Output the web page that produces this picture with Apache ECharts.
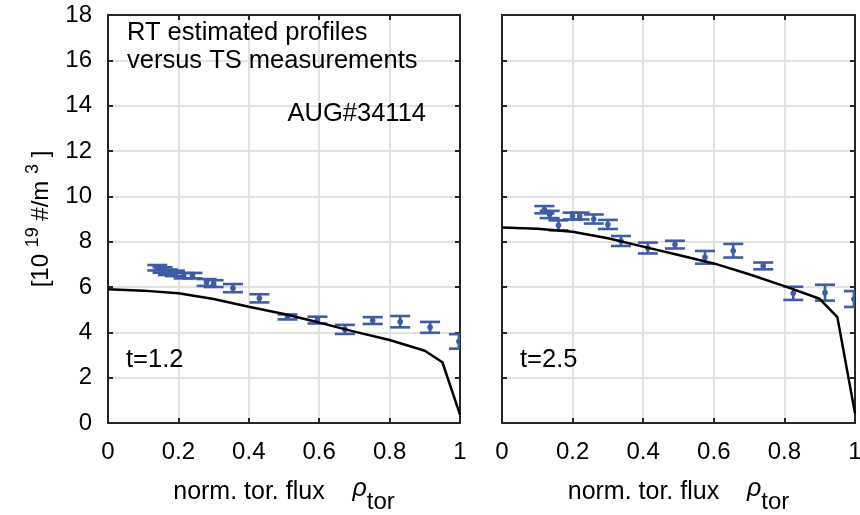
<!DOCTYPE html>
<html><head><meta charset="utf-8">
<script src="https://cdn.jsdelivr.net/npm/echarts@6/dist/echarts.min.js"></script>
<style>html,body{margin:0;padding:0;background:#fff}#c{width:860px;height:515px}</style>
</head><body><div id="c"></div>
<script>
// tick values
const xTicks = [0, 0.2, 0.4, 0.6, 0.8, 1];
const yTicks = [0, 2, 4, 6, 8, 10, 12, 14, 16, 18];

// model profiles (black lines)
const modelX = [0, 0.1, 0.2, 0.3, 0.4, 0.5, 0.6, 0.7, 0.8, 0.9, 0.95, 1.0];
const leftModelY = [5.9, 5.84, 5.72, 5.47, 5.13, 4.81, 4.43, 4.03, 3.66, 3.19, 2.68, 0.37];
const rightModelY = [8.62, 8.57, 8.44, 8.15, 7.78, 7.41, 7.04, 6.56, 6.04, 5.48, 4.67, 0.43];

// TS measurements (t=1.2)
const leftTsX = [0.14, 0.155, 0.17, 0.19, 0.215, 0.24, 0.28, 0.30, 0.355, 0.43, 0.51, 0.595, 0.673, 0.752, 0.83, 0.915, 0.997];
const leftTsY = [6.85, 6.75, 6.65, 6.6, 6.5, 6.5, 6.2, 6.15, 5.95, 5.5, 4.68, 4.54, 4.13, 4.52, 4.47, 4.22, 3.6];
const leftTsErr = [0.12, 0.12, 0.12, 0.12, 0.12, 0.12, 0.15, 0.15, 0.18, 0.18, 0.11, 0.15, 0.2, 0.15, 0.25, 0.24, 0.32];

// TS measurements (t=2.5)
const rightTsX = [0.12, 0.135, 0.16, 0.2, 0.22, 0.26, 0.30, 0.337, 0.413, 0.49, 0.575, 0.655, 0.74, 0.825, 0.915, 0.997];
const rightTsY = [9.41, 9.2, 8.72, 9.13, 9.13, 9.0, 8.76, 8.03, 7.72, 7.87, 7.31, 7.6, 6.93, 5.72, 5.75, 5.47];
const rightTsErr = [0.16, 0.16, 0.22, 0.15, 0.15, 0.2, 0.2, 0.22, 0.24, 0.17, 0.28, 0.3, 0.15, 0.29, 0.35, 0.35];

const FONT = 'Liberation Sans, Arial, sans-serif';
const BLUE = '#3d5ba8';
const FRAME = '#262626';

const chart = echarts.init(document.getElementById('c'), null, {renderer: 'canvas'});

function xAx(grid, primary) {
  return {
    type: 'value', gridIndex: grid, position: primary ? 'bottom' : 'top',
    min: xTicks[0], max: xTicks[xTicks.length - 1], interval: xTicks[1] - xTicks[0],
    axisLine: {show: true, onZero: false, lineStyle: {color: FRAME, width: 2}},
    axisTick: {show: true, inside: true, length: 5, lineStyle: {color: FRAME, width: 2}},
    axisLabel: {show: primary, color: '#000', fontSize: 24, fontFamily: FONT, margin: 17},
    splitLine: {show: primary, lineStyle: {color: '#e2e2e2', width: 2}},
    name: primary ? 'norm. tor. flux    {r|ρ}{s|tor}' : '',
    nameLocation: 'middle', nameGap: 47,
    nameTextStyle: {
      color: '#000', fontSize: 25, fontFamily: FONT,
      rich: {
        r: {fontSize: 25, fontStyle: 'italic', fontFamily: FONT, color: '#000', padding: [0, 0, 6, 0]},
        s: {fontSize: 24, fontFamily: FONT, color: '#000', padding: [20, 0, 0, 0]}
      }
    }
  };
}
function yAx(grid, primary, labels) {
  return {
    type: 'value', gridIndex: grid, position: primary ? 'left' : 'right',
    min: yTicks[0], max: yTicks[yTicks.length - 1], interval: yTicks[1] - yTicks[0],
    axisLine: {show: true, onZero: false, lineStyle: {color: FRAME, width: 2}},
    axisTick: {show: true, inside: true, length: 5, lineStyle: {color: FRAME, width: 2}},
    axisLabel: {show: labels, color: '#000', fontSize: 24, fontFamily: FONT, margin: 16},
    splitLine: {show: primary, lineStyle: {color: '#e2e2e2', width: 2}},
    name: (primary && labels) ? '[10 {sup|19} #/m {sup|3} ]' : '',
    nameLocation: 'middle', nameGap: 50, nameRotate: 90,
    nameTextStyle: {
      color: '#000', fontSize: 24, fontFamily: FONT,
      rich: {
        sup: {fontSize: 18, fontFamily: FONT, color: '#000', padding: [0, 0, 16, 0]}
      }
    }
  };
}

function errSeries(xs, ys, es, xi, yi) {
  return {
    type: 'custom', xAxisIndex: xi, yAxisIndex: yi, z: 3, clip: true,
    data: xs.map((x, i) => [x, ys[i], es[i]]),
    renderItem: function (params, api) {
      const x = api.value(0), y = api.value(1), e = api.value(2);
      const top = api.coord([x, y + e]);
      const bot = api.coord([x, y - e]);
      const mid = api.coord([x, y]);
      const hw = 10;
      const ls = {stroke: BLUE, lineWidth: 2.6, fill: null};
      return {
        type: 'group',
        children: [
          {type: 'line', shape: {x1: top[0], y1: top[1], x2: bot[0], y2: bot[1]}, style: ls},
          {type: 'line', shape: {x1: top[0] - hw, y1: top[1], x2: top[0] + hw, y2: top[1]}, style: ls},
          {type: 'line', shape: {x1: bot[0] - hw, y1: bot[1], x2: bot[0] + hw, y2: bot[1]}, style: ls},
          {type: 'circle', shape: {cx: mid[0], cy: mid[1], r: 2.8}, style: {fill: BLUE, stroke: null}}
        ]
      };
    }
  };
}

function lineSeries(ys, xi, yi) {
  return {
    type: 'line', xAxisIndex: xi, yAxisIndex: yi, z: 5,
    data: modelX.map((x, i) => [x, ys[i]]),
    showSymbol: false, symbol: 'none', silent: true,
    lineStyle: {color: '#000', width: 2.5}
  };
}

const txt = (text, x, y, align) => ({
  type: 'text', x: x, y: y, z: 100,
  style: {text: text, fill: '#000', font: '25.5px ' + FONT, align: align || 'left', verticalAlign: 'middle'}
});

chart.setOption({
  animation: false,
  backgroundColor: '#fff',
  grid: [
    {left: 108, top: 15, width: 352, height: 408, outerBoundsMode: 'none', containLabel: false},
    {left: 502, top: 15, width: 353, height: 408, outerBoundsMode: 'none', containLabel: false}
  ],
  xAxis: [xAx(0, true), xAx(0, false), xAx(1, true), xAx(1, false)],
  yAxis: [yAx(0, true, true), yAx(0, false, false), yAx(1, true, false), yAx(1, false, false)],
  series: [
    errSeries(leftTsX, leftTsY, leftTsErr, 0, 0),
    lineSeries(leftModelY, 0, 0),
    errSeries(rightTsX, rightTsY, rightTsErr, 2, 2),
    lineSeries(rightModelY, 2, 2)
  ],
  graphic: [
    txt('RT estimated profiles', 127, 33),
    txt('versus TS measurements', 127, 61),
    txt('AUG#34114', 426, 114, 'right'),
    txt('t=1.2', 126, 360),
    txt('t=2.5', 520, 360)
  ]
});
</script>
</body></html>
